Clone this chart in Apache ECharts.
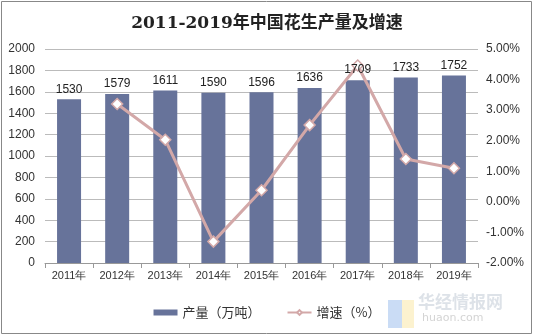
<!DOCTYPE html>
<html><head><meta charset="utf-8">
<script src="https://cdn.jsdelivr.net/npm/echarts@6/dist/echarts.min.js"></script>
<style>html,body{margin:0;padding:0;background:#fff}#c{width:534px;height:336px}</style>
</head><body><div id="c"></div>
<script>
const categories = ['2011年','2012年','2013年','2014年','2015年','2016年','2017年','2018年','2019年'];
const production = [1530,1579,1611,1590,1596,1636,1709,1733,1752];
const growth = [null,3.20,2.03,-1.30,0.38,2.51,4.46,1.40,1.10];
const leftTicks = {min:0,max:2000,interval:200};
const rightTicks = {min:-2,max:5,interval:1};

const chart = echarts.init(document.getElementById('c'));
chart.setOption({
  animation:false,
  backgroundColor:'#fff',
  title:{text:'2011-2019年中国花生产量及增速',left:'center',top:10,
    textStyle:{fontFamily:'DejaVu Serif, Noto Sans CJK SC',fontSize:17,fontWeight:'bold',color:'#222'}},
  graphic:[
    {type:'rect',shape:{x:1.5,y:1.5,width:530,height:332},style:{fill:'none',stroke:'#888',lineWidth:1},silent:true},
    {type:'text',left:418,top:293,style:{text:'华经情报网',fontSize:17,fontWeight:'bold',fill:'rgba(180,190,205,0.45)',fontFamily:'Noto Sans CJK SC'}},
    {type:'text',left:422,top:313,style:{text:'huaon.com',fontSize:11,fill:'rgba(170,170,170,0.5)',fontFamily:'DejaVu Sans'}},
    {type:'rect',shape:{x:388,y:300,width:14,height:28},style:{fill:'rgba(150,185,235,0.5)'}},
    {type:'rect',shape:{x:402,y:300,width:12,height:28},style:{fill:'rgba(250,230,160,0.5)'}}
  ],
  legend:{bottom:12,left:'center',itemGap:26,itemWidth:24,itemHeight:6,
    textStyle:{fontFamily:'Noto Sans CJK SC',fontSize:13,color:'#333'},
    data:[{name:'产量（万吨）',icon:'rect'},{name:'增速（%）'}]},
  grid:{left:45,right:56,top:49,bottom:73,containLabel:false},
  xAxis:{type:'category',data:categories,
    axisLine:{lineStyle:{color:'#999'}},axisTick:{show:true,alignWithLabel:false,lineStyle:{color:'#999'}},
    axisLabel:{color:'#333',fontSize:11,fontFamily:'Liberation Sans',margin:7,interval:0}},
  yAxis:[
    {type:'value',min:leftTicks.min,max:leftTicks.max,interval:leftTicks.interval,
     axisLine:{show:false},axisTick:{show:false},
     splitLine:{lineStyle:{color:'#bbb'}},
     axisLabel:{color:'#333',fontSize:12,fontFamily:'Liberation Sans',margin:10,formatter:v=>String(v)}},
    {type:'value',min:rightTicks.min,max:rightTicks.max,interval:rightTicks.interval,
     axisLine:{show:false},axisTick:{show:false},splitLine:{show:false},
     axisLabel:{color:'#333',fontSize:12,fontFamily:'Liberation Sans',margin:8,
       formatter:v=>v.toFixed(2)+'%'}}
  ],
  series:[
    {name:'产量（万吨）',type:'bar',data:production,barWidth:24,z:2,
     itemStyle:{color:'#67739a'}},
    {name:'增速（%）',type:'line',yAxisIndex:1,data:growth,z:3,
     lineStyle:{color:'#d3a8a8',width:3},itemStyle:{color:'#fff',borderColor:'#d3a8a8',borderWidth:1.5},
     symbol:'diamond',symbolSize:11,showAllSymbol:true},
    {name:'labels',type:'bar',data:production,barWidth:24,barGap:'-100%',z:10,
     itemStyle:{color:'rgba(0,0,0,0)'},silent:true,
     label:{show:true,position:'top',color:'#222',fontSize:12,fontFamily:'Liberation Sans',distance:4}}
  ]
});
</script></body></html>
